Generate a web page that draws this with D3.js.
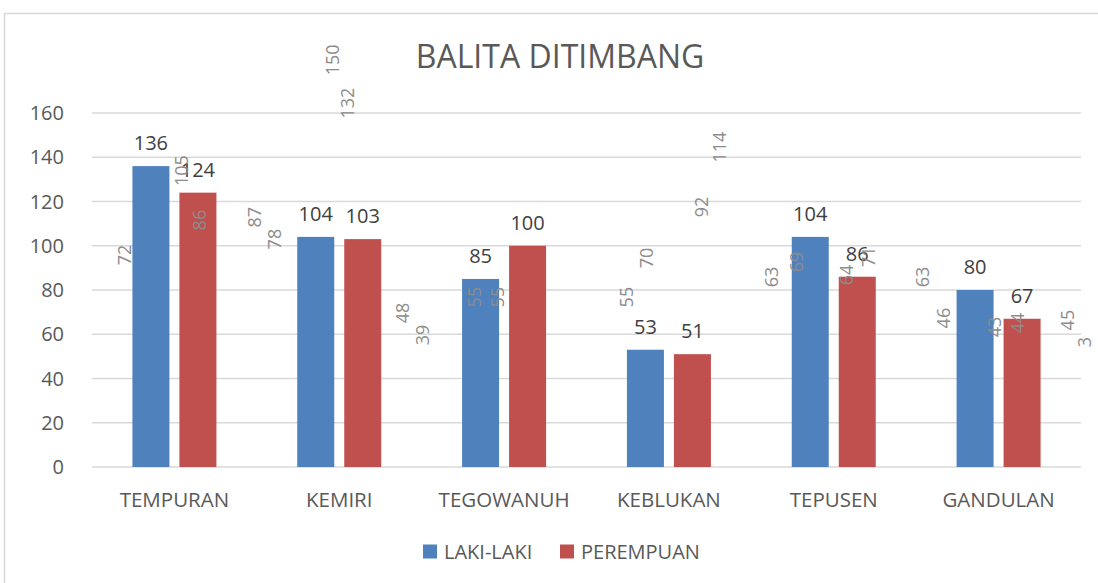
<!DOCTYPE html>
<html>
<head>
<meta charset="utf-8">
<script src="https://cdn.jsdelivr.net/npm/d3@7"></script>
<style>
  body { margin: 0; background: #fff; }
  svg { display: block; font-family: "Open Sans", Lato, sans-serif; }
</style>
</head>
<body>
<svg id="chart" width="1098" height="583"></svg>
<script>
// data
const categories = ["TEMPURAN", "KEMIRI", "TEGOWANUH", "KEBLUKAN", "TEPUSEN", "GANDULAN"]
const seriesNames = ["LAKI-LAKI", "PEREMPUAN"]
const lakiLaki = [136, 104, 85, 53, 104, 80]
const perempuan = [124, 103, 100, 51, 86, 67]
const yTicks = [0, 20, 40, 60, 80, 100, 120, 140, 160]
const colors = ["#4F81BD", "#C0504D"]

// stray rotated labels left over in the picture (band units, value units)
const ghostText = ["150","132","105","86","72","87","78","48","39","55","55","114","92","70","55","63","69","64","71","63","46","43","44","45","3"]
const ghostBand = [1.462,1.553,0.546,0.655,0.2,0.989,1.11,1.887,2.008,2.324,2.464,3.811,3.701,3.368,3.246,4.126,4.278,4.581,4.709,5.042,5.164,5.479,5.613,5.922,6.02]
const ghostVal = [184,164.5,134,111.6,95.8,112.9,103,69.6,59.7,76.8,76.8,144.6,117.5,94.5,76.8,85.9,92.7,86.8,95,85.9,67.3,63.3,65.1,66.4,56.5]

const svg = d3.select("#chart")
const margin = {left: 92, right: 17, top: 113, bottom: 116}
const width = 1098, height = 583

// outer chart frame
svg.append("rect")
    .attr("x", 4.5).attr("y", 13.5)
    .attr("width", 1120).attr("height", 600)
    .attr("fill", "none").attr("stroke", "#d9d9d9").attr("stroke-width", 1.5)

const x = d3.scaleBand()
    .domain(categories)
    .range([margin.left, width - margin.right])
const xUnit = d3.scaleLinear().domain([0, categories.length]).range([margin.left, width - margin.right])
const y = d3.scaleLinear()
    .domain([0, 160])
    .range([height - margin.bottom, margin.top])

// gridlines
svg.append("g")
    .selectAll("line")
    .data(yTicks)
    .enter()
    .append("line")
    .attr("x1", margin.left).attr("x2", width - margin.right)
    .attr("y1", d => y(d)).attr("y2", d => y(d))
    .attr("stroke", "#d9d9d9").attr("stroke-width", 1.5)

// y tick labels
svg.append("g")
    .selectAll("text")
    .data(yTicks)
    .enter()
    .append("text")
    .attr("x", 64).attr("y", d => y(d))
    .attr("dy", "0.35em")
    .attr("text-anchor", "end")
    .attr("font-size", 20)
    .attr("fill", "#595959")
    .text(d => d)

const barW = 37, gap = 10
const sub = d3.scaleOrdinal().domain([0, 1]).range([-(gap / 2 + barW), gap / 2])
const rows = []
categories.forEach((c, i) => {
    rows.push({cat: c, s: 0, v: lakiLaki[i]})
    rows.push({cat: c, s: 1, v: perempuan[i]})
})

const bars = svg.append("g")
bars.selectAll("rect")
    .data(rows)
    .enter()
    .append("rect")
    .attr("x", d => x(d.cat) + x.bandwidth() / 2 + sub(d.s))
    .attr("y", d => y(d.v))
    .attr("width", barW)
    .attr("height", d => y(0) - y(d.v))
    .attr("fill", d => colors[d.s])

// value labels
bars.selectAll("text")
    .data(rows)
    .enter()
    .append("text")
    .attr("x", d => x(d.cat) + x.bandwidth() / 2 + sub(d.s) + barW / 2)
    .attr("y", d => y(d.v) - 16)
    .attr("text-anchor", "middle")
    .attr("font-size", 20)
    .attr("fill", "#404040")
    .text(d => d.v)

// ghost rotated labels
svg.append("g")
    .selectAll("text")
    .data(ghostText)
    .enter()
    .append("text")
    .attr("transform", (d, i) => `translate(${xUnit(ghostBand[i])},${y(ghostVal[i])}) rotate(-90)`)
    .attr("text-anchor", "middle")
    .attr("dy", "0.35em")
    .attr("font-size", 18)
    .attr("fill", "#8c8c8c")
    .text(d => d)

// category labels
svg.append("g")
    .selectAll("text")
    .data(categories)
    .enter()
    .append("text")
    .attr("x", d => x(d) + x.bandwidth() / 2)
    .attr("y", 500)
    .attr("dy", "0.35em")
    .attr("text-anchor", "middle")
    .attr("font-size", 20.5)
    .attr("fill", "#595959")
    .text(d => d)

// title
svg.append("text")
    .attr("x", 560).attr("y", 57)
    .attr("dy", "0.35em")
    .attr("text-anchor", "middle")
    .attr("font-size", 32)
    .attr("fill", "#595959")
    .text("BALITA DITIMBANG")

// legend
const legendX = [423, 560]
const legend = svg.append("g")
    .selectAll("g")
    .data(seriesNames)
    .enter()
    .append("g")
    .attr("transform", (d, i) => `translate(${legendX[i]},551.5)`)
legend.append("rect")
    .attr("x", 0).attr("y", -7)
    .attr("width", 14).attr("height", 14)
    .attr("fill", (d, i) => colors[i])
legend.append("text")
    .attr("x", 21).attr("y", 0)
    .attr("dy", "0.35em")
    .attr("font-size", 20)
    .attr("fill", "#595959")
    .text(d => d)
</script>
</body>
</html>
